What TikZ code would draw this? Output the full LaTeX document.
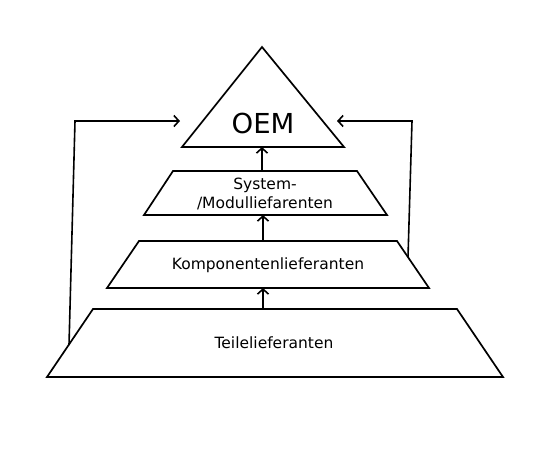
\documentclass[tikz,border=0pt]{standalone}
\usepackage{fontspec}
\setmainfont{DejaVu Sans}
\usetikzlibrary{arrows.meta}
\begin{document}
\begin{tikzpicture}[x=1pt,y=-1pt,
  shapeline/.style={line width=1.7pt,line join=miter},
  conn/.style={line width=1.6pt,-{Straight Barb[length=5pt,width=11pt,line width=1.6pt]}},
  lbl/.style={font=\fontsize{15.5}{18.5}\selectfont,align=center,inner sep=0pt},
  biglbl/.style={font=\fontsize{27.5}{30}\selectfont,inner sep=0pt}]
\useasboundingbox (0,0) rectangle (540,448);
% OEM triangle
\draw[shapeline] (262,47) -- (344,147) -- (182,147) -- cycle;
\coordinate (oemB) at (262,147);
\node[biglbl] (oem) at (263,123) {OEM};
% System trapezoid
\draw[shapeline] (173,171) -- (357,171) -- (387,215) -- (144,215) -- cycle;
\coordinate (sysT) at (262,171);
\coordinate (sysB) at (263,215);
\node[lbl] (sys) at (265,194) {System-\\/Modulliefarenten};
% Komponenten trapezoid
\draw[shapeline] (139,241) -- (397,241) -- (429,288) -- (107,288) -- cycle;
\coordinate (komT) at (263,241);
\coordinate (komB) at (263,288);
\coordinate (komR) at (408,257);
\node[lbl] (kom) at (268,265) {Komponentenlieferanten};
% Teile trapezoid
\draw[shapeline] (93,309) -- (457,309) -- (503,377) -- (47,377) -- cycle;
\coordinate (teiT) at (263,309);
\coordinate (teiL) at (69,345);
\node[lbl] (tei) at (274,343) {Teilelieferanten};
% vertical arrows
\draw[conn] (sysT) -- (oemB);
\draw[conn] (komT) -- (sysB);
\draw[conn] (teiT) -- (komB);
% feedback arrows
\coordinate (lcorner) at (75,121);
\coordinate (ltip) at (180,121);
\coordinate (rcorner) at (412,121);
\coordinate (rtip) at (337,121);
\draw[conn] (teiL) -- (lcorner) -- (ltip);
\draw[conn] (komR) -- (rcorner) -- (rtip);
\end{tikzpicture}
\end{document}
